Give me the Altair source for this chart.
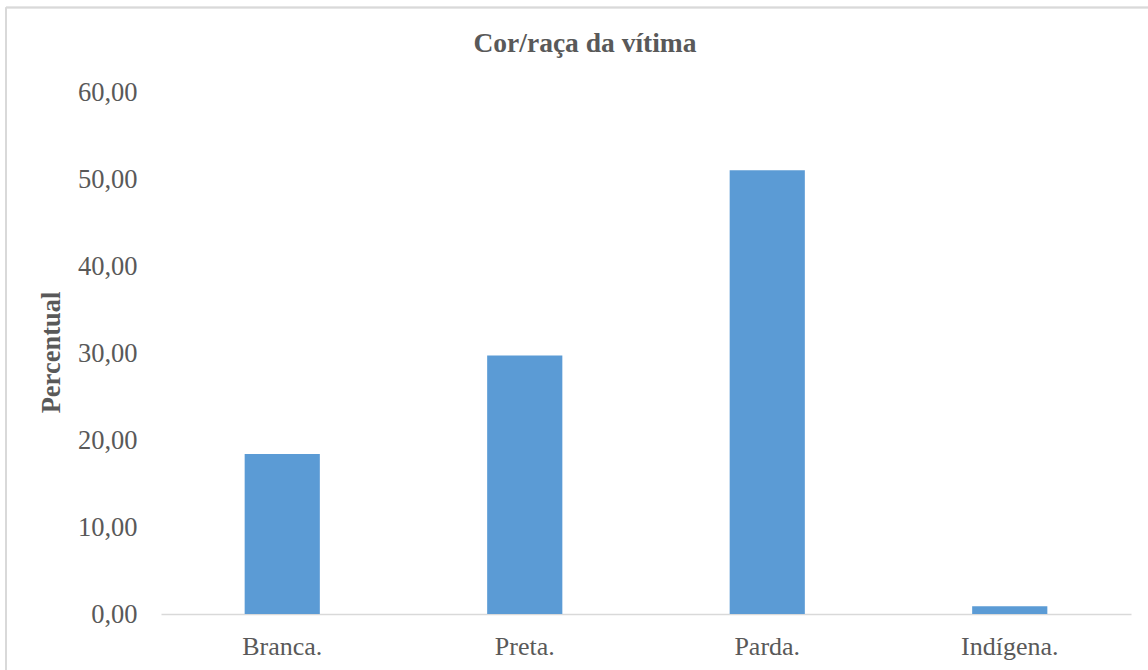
import altair as alt
import pandas as pd

# Distribuição percentual das vítimas por cor/raça
categorias = ["Branca.", "Preta.", "Parda.", "Indígena."]
percentuais = [18.4, 29.7, 51.0, 0.9]
marcas_y = [0, 10, 20, 30, 40, 50, 60]
titulo = ["Cor/raça da vítima"]

df = pd.DataFrame({"categoria": categorias, "percentual": percentuais})
df_titulo = pd.DataFrame({"titulo": titulo})

FONTE = "Liberation Serif"
CINZA_TEXTO = "#595959"
CINZA_LINHA = "#D9D9D9"
AZUL = "#5B9BD5"

W, H = 970, 522
PAD_L, PAD_T, PAD_R, PAD_B = 161, 92, 17, 56

barras = alt.Chart(df).mark_bar(color=AZUL).encode(
    x=alt.X(
        "categoria:N",
        sort=categorias,
        scale=alt.Scale(paddingInner=0.69, paddingOuter=0.345),
        axis=alt.Axis(
            title=None,
            labelAngle=0,
            labelFont=FONTE,
            labelFontSize=26,
            labelColor=CINZA_TEXTO,
            labelBaseline="alphabetic",
            labelPadding=40,
            ticks=False,
            tickSize=0,
            domainColor=CINZA_LINHA,
            domainWidth=1.5,
        ),
    ),
    y=alt.Y(
        "percentual:Q",
        scale=alt.Scale(domain=[0, 60], nice=False),
        axis=alt.Axis(
            title="Percentual",
            values=marcas_y,
            labelExpr="replace(format(datum.value, '.2f'), '.', ',')",
            labelFont=FONTE,
            labelFontSize=26.5,
            labelColor=CINZA_TEXTO,
            labelPadding=24,
            ticks=False,
            domain=False,
            grid=False,
            titleFont=FONTE,
            titleFontSize=26.5,
            titleFontWeight="bold",
            titleColor=CINZA_TEXTO,
            titleAngle=270,
            titleAlign="center",
            titleBaseline="bottom",
            titleX=-96,
            titleY=260,
        ),
    ),
)

# título do gráfico, centrado na moldura
cabecalho = alt.Chart(df_titulo).mark_text(
    font=FONTE,
    fontSize=27.5,
    fontWeight="bold",
    color=CINZA_TEXTO,
    align="center",
    baseline="alphabetic",
).encode(text="titulo:N", x=alt.value(585 - PAD_L), y=alt.value(52 - PAD_T))

# moldura externa do gráfico (linhas superior e esquerda)
moldura_topo = alt.Chart(df).mark_rule(color=CINZA_LINHA, strokeWidth=1.5).encode(
    x=alt.value(6 - PAD_L), x2=alt.value(W + PAD_R), y=alt.value(7.5 - PAD_T)
)
moldura_esq = alt.Chart(df).mark_rule(color=CINZA_LINHA, strokeWidth=1.5).encode(
    x=alt.value(6 - PAD_L), y=alt.value(7.5 - PAD_T), y2=alt.value(H + PAD_B)
)

chart = (
    alt.layer(moldura_topo, moldura_esq, barras, cabecalho)
    .properties(
        width=W,
        height=H,
        autosize=alt.AutoSizeParams(type="none"),
        padding={"left": PAD_L, "top": PAD_T, "right": PAD_R, "bottom": PAD_B},
        background="white",
    )
    .configure_view(stroke=None)
)

chart.save("out.html", embed_options={"renderer": "svg", "actions": False})
